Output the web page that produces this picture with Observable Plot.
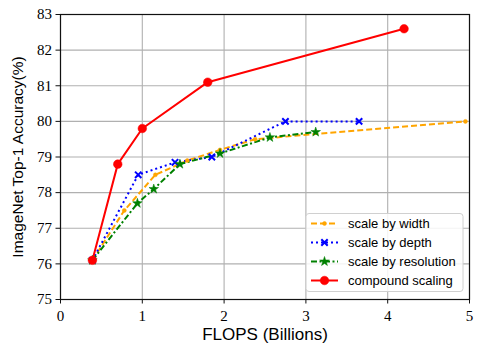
<!DOCTYPE html>
<html>
<head>
<meta charset="utf-8">
<script src="https://cdn.jsdelivr.net/npm/d3@7"></script>
<script src="https://cdn.jsdelivr.net/npm/@observablehq/plot@0.6"></script>
<style>
  html, body { margin: 0; padding: 0; background: white; }
  #wrap { position: relative; width: 493px; height: 356px; }
  #legend { position: absolute; left: 0; top: 0; pointer-events: none; }
</style>
</head>
<body>
<div id="wrap"></div>
<script>
// ---- data ----
const widthFlops = [0.39, 0.78, 1.16, 1.55, 1.95, 2.38, 4.95];
const widthAcc   = [76.1, 77.5, 78.5, 78.9, 79.2, 79.5, 80.0];

const depthFlops = [0.39, 0.95, 1.40, 1.85, 2.75, 3.65];
const depthAcc   = [76.1, 78.5, 78.85, 79.0, 80.0, 80.0];

const resFlops = [0.39, 0.94, 1.14, 1.46, 1.95, 2.56, 3.12];
const resAcc   = [76.1, 77.7, 78.1, 78.8, 79.1, 79.55, 79.7];

const compFlops = [0.39, 0.70, 1.0, 1.8, 4.2];
const compAcc   = [76.1, 78.8, 79.8, 81.1, 82.6];

const xTicks = [0, 1, 2, 3, 4, 5];
const yTicks = [75, 76, 77, 78, 79, 80, 81, 82, 83];

const seriesNames = ["scale by width", "scale by depth", "scale by resolution", "compound scaling"];
const seriesColors = ["orange", "#0000ff", "#008000", "#ff0000"];
const seriesDash = ["6,3", "2,3", "6,2.5,2,2.5", null];
const seriesSymbols = ["circle", "times", "star", "circle"];
const seriesR = [2, 3, 3, 4.3];

const xLabel = "FLOPS (Billions)";
const yLabel = "ImageNet Top-1 Accuracy(%)";

const toRows = (xs, ys, s) => xs.map((x, i) => ({x, y: ys[i], s}));
const series = [
  toRows(widthFlops, widthAcc, 0),
  toRows(depthFlops, depthAcc, 1),
  toRows(resFlops, resAcc, 2),
  toRows(compFlops, compAcc, 3)
];

const sans = "Liberation Sans";
const serif = "Liberation Serif";

const marks = [
  Plot.gridX(xTicks, {stroke: "#b0b0b0", strokeOpacity: 1, strokeWidth: 1.1}),
  Plot.gridY(yTicks, {stroke: "#b0b0b0", strokeOpacity: 1, strokeWidth: 1.1})
];
series.forEach((rows, i) => {
  marks.push(Plot.line(rows, {x: "x", y: "y", stroke: seriesColors[i], strokeWidth: 2,
    strokeDasharray: seriesDash[i] || undefined, strokeLinecap: "butt", clip: true}));
});
series.forEach((rows, i) => {
  const sym = seriesSymbols[i];
  const filled = sym !== "times";
  marks.push(Plot.dot(rows, {x: "x", y: "y", r: seriesR[i], symbol: () => sym,
    fill: filled ? seriesColors[i] : "none", stroke: seriesColors[i],
    strokeWidth: filled ? 0.5 : 2}));
});
marks.push(
  Plot.frame({stroke: "#111", strokeWidth: 1.2}),
  Plot.axisX(xTicks, {tickSize: 4.5, tickPadding: 6, fontSize: 15, label: null, stroke: "#111", fontFamily: serif}),
  Plot.axisY(yTicks, {tickSize: 4.5, tickPadding: 4, fontSize: 15, label: null, stroke: "#111", fontFamily: serif}),
  Plot.text([xLabel], {text: d => d, frameAnchor: "bottom", dy: 40, fontSize: 17, fill: "black", fontFamily: sans}),
  Plot.text([yLabel], {text: d => d, frameAnchor: "left", textAnchor: "middle", lineAnchor: "middle",
    rotate: -90, dx: -42, fontSize: 15.5, fill: "black", fontFamily: sans})
);

const chart = Plot.plot({
  width: 493,
  height: 356,
  marginLeft: 60,
  marginRight: 24,
  marginTop: 14,
  marginBottom: 57,
  x: {domain: [0, 5]},
  y: {domain: [75, 83]},
  style: {background: "white", color: "black", overflow: "visible", fontFamily: serif},
  marks
});
document.getElementById("wrap").appendChild(chart);

// fonts: serif tick labels, sans axis titles
d3.select(chart).selectAll("g").each(function() {
  const lab = this.getAttribute("aria-label") || "";
  if (lab.includes("tick label")) {
    this.setAttribute("font-family", serif);
    this.style.fontFamily = serif;
  }
});
d3.select(chart).selectAll("text").each(function() {
  const t = this.textContent;
  const fam = (t === xLabel || t === yLabel) ? sans : serif;
  this.setAttribute("font-family", fam);
  this.style.setProperty("font-family", fam, "important");
});

// ---- legend (overlay) ----
const lg = d3.select("#wrap").append("svg").attr("id", "legend")
  .attr("width", 493).attr("height", 356);
lg.append("rect").attr("x", 306).attr("y", 213.5).attr("width", 157).attr("height", 78)
  .attr("rx", 3).attr("fill", "rgba(255,255,255,0.85)").attr("stroke", "#d0d0d0").attr("stroke-width", 1);
seriesNames.forEach((name, i) => {
  const cy = 223.5 + i * 19;
  const g = lg.append("g");
  g.append("line").attr("x1", 311).attr("x2", 338).attr("y1", cy).attr("y2", cy)
    .attr("stroke", seriesColors[i]).attr("stroke-width", 2)
    .attr("stroke-dasharray", seriesDash[i]);
  const sym = {circle: d3.symbolCircle, times: d3.symbolTimes, star: d3.symbolStar}[seriesSymbols[i]];
  const r = seriesR[i];
  const filled = seriesSymbols[i] !== "times";
  g.append("path").attr("d", d3.symbol(sym, r * r * Math.PI)())
    .attr("transform", `translate(324.5,${cy})`)
    .attr("fill", filled ? seriesColors[i] : "none").attr("stroke", seriesColors[i])
    .attr("stroke-width", filled ? 0.5 : 2);
  g.append("text").attr("x", 348).attr("y", cy).attr("dy", "0.35em")
    .attr("font-family", sans).attr("font-size", 13).attr("fill", "black").text(name);
});
</script>
</body>
</html>
